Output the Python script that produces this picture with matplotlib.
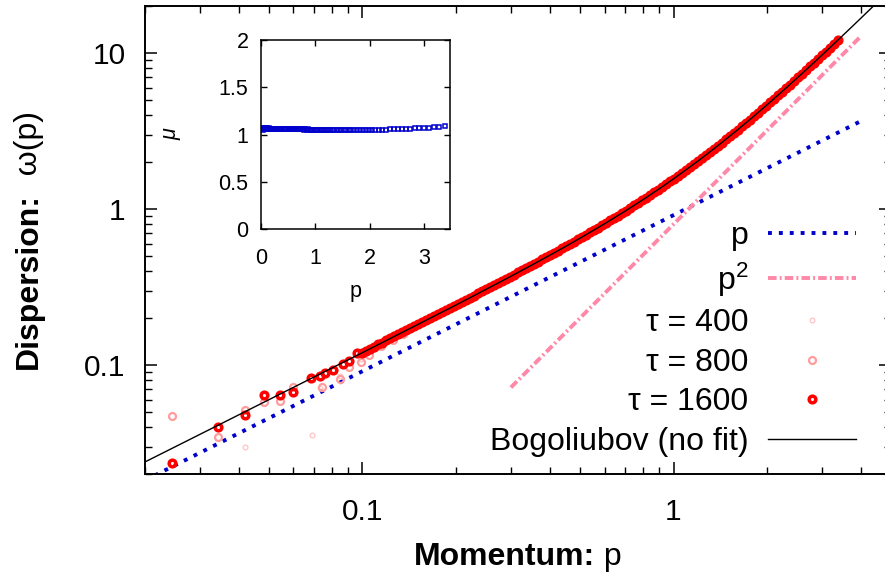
import matplotlib
matplotlib.use("Agg")
import matplotlib.pyplot as plt
from matplotlib.ticker import LogLocator, FuncFormatter, NullFormatter, FixedLocator
from matplotlib.transforms import IdentityTransform

plt.rcParams.update({
    "font.family": ["Liberation Sans", "DejaVu Sans"],
    "mathtext.fontset": "custom",
    "mathtext.rm": "Liberation Sans",
    "mathtext.it": "Liberation Sans:italic",
    "mathtext.bf": "Liberation Sans:bold",
})

# ---------------- data ----------------
# measured dispersion, tau = 1600: isolated low-momentum points
p_1600_low = [0.0244, 0.0343, 0.0419, 0.0481, 0.0542, 0.0597, 0.0684, 0.0731, 0.0760,
              0.0802, 0.0865, 0.0908, 0.0959]
w_1600_low = [0.0238, 0.0402, 0.0482, 0.0642, 0.0648, 0.0677, 0.0826, 0.0854, 0.0897,
              0.0933, 0.1020, 0.1066, 0.1194]

# tau = 1600: densely sampled momenta
p_1600 = [0.1000, 0.1030, 0.1061, 0.1093, 0.1126, 0.1159, 0.1194, 0.1230, 0.1267, 0.1305,
          0.1344, 0.1384, 0.1426, 0.1469, 0.1513, 0.1558, 0.1605, 0.1653, 0.1702, 0.1754,
          0.1806, 0.1860, 0.1916, 0.1974, 0.2033, 0.2094, 0.2157, 0.2221, 0.2288, 0.2357,
          0.2427, 0.2500, 0.2575, 0.2652, 0.2732, 0.2814, 0.2898, 0.2985, 0.3075, 0.3167,
          0.3262, 0.3360, 0.3461, 0.3564, 0.3671, 0.3781, 0.3895, 0.4012, 0.4132, 0.4256,
          0.4384, 0.4515, 0.4651, 0.4790, 0.4934, 0.5082, 0.5235, 0.5392, 0.5553, 0.5720,
          0.5892, 0.6068, 0.6250, 0.6438, 0.6631, 0.6830, 0.7035, 0.7246, 0.7463, 0.7687,
          0.7918, 0.8155, 0.8400, 0.8652, 0.8912, 0.9179, 0.9454, 0.9738, 1.0030, 1.0331,
          1.0641, 1.0960, 1.1289, 1.1628, 1.1976, 1.2336, 1.2706, 1.3087, 1.3480, 1.3884,
          1.4300, 1.4729, 1.5171, 1.5627, 1.6095, 1.6578, 1.7076, 1.7588, 1.8116, 1.8659,
          1.9219, 1.9796, 2.0389, 2.1001, 2.1631, 2.2280, 2.2948, 2.3637, 2.4346, 2.5076,
          2.5829, 2.6603, 2.7402, 2.8224, 2.9070, 2.9942, 3.0841, 3.1766, 3.2719, 3.3700]
w_1600 = [0.1204, 0.1241, 0.1278, 0.1317, 0.1357, 0.1397, 0.1440, 0.1484, 0.1529, 0.1575,
          0.1623, 0.1672, 0.1723, 0.1776, 0.1830, 0.1885, 0.1943, 0.2002, 0.2063, 0.2127,
          0.2192, 0.2259, 0.2328, 0.2401, 0.2474, 0.2551, 0.2630, 0.2710, 0.2795, 0.2882,
          0.2971, 0.3064, 0.3160, 0.3259, 0.3362, 0.3468, 0.3578, 0.3691, 0.3809, 0.3931,
          0.4056, 0.4187, 0.4323, 0.4461, 0.4607, 0.4757, 0.4914, 0.5076, 0.5244, 0.5419,
          0.5601, 0.5789, 0.5986, 0.6189, 0.6402, 0.6623, 0.6854, 0.7094, 0.7343, 0.7604,
          0.7877, 0.8160, 0.8456, 0.8767, 0.9091, 0.9431, 0.9786, 1.016, 1.055, 1.095,
          1.138, 1.183, 1.230, 1.280, 1.332, 1.387, 1.444, 1.505, 1.569, 1.636,
          1.707, 1.781, 1.860, 1.943, 2.030, 2.123, 2.221, 2.324, 2.433, 2.548,
          2.670, 2.798, 2.935, 3.079, 3.231, 3.393, 3.564, 3.745, 3.937, 4.139,
          4.355, 4.583, 4.824, 5.080, 5.351, 5.638, 5.943, 6.266, 6.608, 6.971,
          7.356, 7.764, 8.197, 8.656, 9.142, 9.658, 10.21, 10.79, 11.40, 12.06]

# tau = 800
p_800 = [0.0244, 0.0343, 0.0419, 0.0481, 0.0542, 0.0597, 0.0742, 0.0844, 0.0908, 0.0990,
         0.1053, 0.1150, 0.1250, 0.1350]
w_800 = [0.0476, 0.0348, 0.0517, 0.0585, 0.0593, 0.0730, 0.0723, 0.0813, 0.0980, 0.1054,
         0.1164, 0.1330, 0.1460, 0.1580]

# tau = 400
p_400 = [0.0419, 0.0687, 0.0731, 0.0844, 0.0990, 0.1150, 0.1400]
w_400 = [0.0298, 0.0357, 0.0712, 0.0850, 0.1100, 0.1340, 0.1650]

# Bogoliubov dispersion (no fit)
p_bog = [0.02, 0.03, 0.05, 0.07, 0.1, 0.15, 0.2, 0.25, 0.3, 0.35, 0.4, 0.45, 0.5, 0.6,
         0.7, 0.8, 0.9, 1.0, 1.2, 1.4, 1.6, 1.8, 2.0, 2.3, 2.6, 3.0, 3.4, 3.8, 4.2, 4.6]
w_bog = [0.02400, 0.03601, 0.06005, 0.08414, 0.1204, 0.1814, 0.2433, 0.3064, 0.3711,
         0.4375, 0.5060, 0.5767, 0.6500, 0.8050, 0.9725, 1.1538, 1.3500, 1.5621, 2.0365,
         2.5815, 3.2000, 3.8940, 4.6648, 5.9667, 7.4453, 9.6933, 12.259, 15.143, 18.346,
         21.868]

# guide lines ~ p and ~ p^2
p_lin = [0.02, 4.0]
w_lin = [0.0183, 3.66]
p_sq = [0.30, 4.0]
w_sq = [0.072, 12.8]

# inset: mu versus p
p_mu = [0.0245, 0.0343, 0.0419, 0.0481, 0.0542, 0.0597, 0.0684, 0.0760, 0.0865, 0.1000,
        0.1061, 0.1126, 0.1194, 0.1267, 0.1344, 0.1426, 0.1513, 0.1605, 0.1702, 0.1806,
        0.1916, 0.2033, 0.2157, 0.2288, 0.2427, 0.2575, 0.2732, 0.2898, 0.3075, 0.3262,
        0.3461, 0.3671, 0.3895, 0.4132, 0.4384, 0.4651, 0.4934,
        0.5082, 0.5235, 0.5392, 0.5553, 0.5720, 0.5892, 0.6068, 0.6250, 0.6438, 0.6631,
        0.6830, 0.7035, 0.7246, 0.7463, 0.7687, 0.7918, 0.8155, 0.8400, 0.8652, 0.8912,
        0.9179, 0.9454, 0.9738, 1.0030, 1.0331, 1.0641, 1.0960, 1.1289, 1.1628, 1.1976,
        1.2336, 1.2706, 1.3087, 1.3480, 1.3884, 1.4300, 1.4729, 1.5171, 1.5627, 1.6095,
        1.6578, 1.7076, 1.7588, 1.8116, 1.8659, 1.9219, 1.9796, 2.0389, 2.1001, 2.1631,
        2.2280, 2.2948, 2.3637, 2.4346, 2.5076, 2.5829, 2.6603, 2.7402, 2.8224, 2.9070,
        2.9942, 3.0841, 3.1766, 3.2719, 3.3700]
mu = [1.060, 1.070, 1.050, 1.068, 1.056, 1.066, 1.053, 1.066, 1.056, 1.064,
      1.054, 1.065, 1.057, 1.063, 1.055, 1.064, 1.056, 1.062, 1.055, 1.062,
      1.056, 1.062, 1.055, 1.061, 1.056, 1.061, 1.055, 1.060, 1.056, 1.060,
      1.055, 1.059, 1.056, 1.059, 1.056, 1.058, 1.056,
      1.058, 1.056, 1.058, 1.055, 1.057, 1.055, 1.057, 1.054, 1.056, 1.054,
      1.055, 1.053, 1.055, 1.053, 1.054, 1.052, 1.054, 1.052, 1.053, 1.051,
      1.052, 1.051, 1.051, 1.050, 1.050, 1.049, 1.050, 1.048, 1.049, 1.047,
      1.048, 1.047, 1.047, 1.046, 1.046, 1.045, 1.046, 1.045, 1.045, 1.044,
      1.045, 1.044, 1.045, 1.045, 1.046, 1.046, 1.047, 1.048, 1.049, 1.050,
      1.051, 1.052, 1.053, 1.055, 1.056, 1.058, 1.060, 1.062, 1.064, 1.067,
      1.070, 1.074, 1.078, 1.084, 1.090]

# ---------------- figure ----------------
W, H = 885, 580
fig = plt.figure(figsize=(W / 100, H / 100), dpi=100)


def px_box(left, top, right, bottom):
    return [left / W, 1 - bottom / H, (right - left) / W, (bottom - top) / H]


ax = fig.add_axes(px_box(145, 6, 891, 474.3))
ax.set_xscale("log")
ax.set_yscale("log")
ax.set_xlim(0.02, 5)
ax.set_ylim(0.02, 20)

BLUE = "#0000cc"
PINK = "#ff88a8"
RED = "#ff0000"

h_lin, = ax.plot(p_lin, w_lin, color=BLUE, lw=2.8, ls=(0, (1.0, 1.8)),
                 dash_capstyle="butt", zorder=2, label="p")
h_sq, = ax.plot(p_sq, w_sq, color=PINK, lw=2.8, ls=(0, (2.2, 0.8, 0.5, 0.8)),
                dash_capstyle="butt", zorder=2, label=r"$\mathrm{p}^{2}$")
h400, = ax.plot(p_400, w_400, ls="none", marker="o", mfc="none", mec="#ffc8c8",
                ms=3.4, mew=1.0, zorder=3, label="τ = 400")
h800, = ax.plot(p_800, w_800, ls="none", marker="o", mfc="none", mec="#ff9c9c",
                ms=5.0, mew=1.6, zorder=3, label="τ = 800")
h1600, = ax.plot(p_1600_low, w_1600_low, ls="none", marker="o", mfc="none", mec=RED,
                 ms=4.8, mew=2.5, zorder=4, label="τ = 1600")
# at high momentum the tau = 1600 rings overlap into a solid band
ax.plot(p_1600, w_1600, ls="none", marker="o", mfc=RED, mec=RED,
        ms=6.3, mew=1.0, zorder=4)
h_bog, = ax.plot(p_bog, w_bog, color="black", lw=1.0, zorder=5,
                 label="Bogoliubov (no fit)")

for s in ax.spines.values():
    s.set_linewidth(1.4)

ax.xaxis.set_major_locator(LogLocator(base=10))
ax.yaxis.set_major_locator(LogLocator(base=10))
ax.xaxis.set_minor_locator(LogLocator(base=10, subs=range(2, 10)))
ax.yaxis.set_minor_locator(LogLocator(base=10, subs=range(2, 10)))
fmt = FuncFormatter(lambda v, _: f"{v:g}")
ax.xaxis.set_major_formatter(fmt)
ax.yaxis.set_major_formatter(fmt)
ax.xaxis.set_minor_formatter(NullFormatter())
ax.yaxis.set_minor_formatter(NullFormatter())
ax.tick_params(which="both", direction="in", top=True, right=True)
ax.tick_params(which="major", length=8.6, width=1.1, labelsize=21.5)
ax.tick_params(which="minor", length=5.0, width=1.0)
ax.tick_params(axis="x", which="major", pad=17)
ax.tick_params(axis="y", which="major", pad=14)

leg = ax.legend(handles=[h_lin, h_sq, h400, h800, h1600, h_bog],
                loc="lower right", bbox_to_anchor=(856, H - 457),
                bbox_transform=IdentityTransform(), frameon=False,
                markerfirst=False, fontsize=23, handlelength=2.75,
                handletextpad=0.62, labelspacing=0.30, borderpad=0,
                borderaxespad=0, numpoints=1)

# ---------------- inset ----------------
axi = fig.add_axes(px_box(261, 40, 450, 229))
axi.plot(p_mu, mu, ls="none", marker="s", mfc="none", mec=BLUE, ms=3.2, mew=1.1)
axi.set_xlim(0, 3.47)
axi.set_ylim(0, 2)
axi.xaxis.set_major_locator(FixedLocator([0, 1, 2, 3]))
axi.yaxis.set_major_locator(FixedLocator([0, 0.5, 1, 1.5, 2]))
axi.xaxis.set_major_formatter(fmt)
axi.yaxis.set_major_formatter(fmt)
axi.tick_params(direction="in", top=True, right=True, length=4.5, width=1.0,
                labelsize=15.5)
axi.tick_params(axis="x", pad=14)
axi.tick_params(axis="y", pad=9)
for s in axi.spines.values():
    s.set_linewidth(1.1)
axi.set_xlabel("p", fontsize=15.5, labelpad=8)
axi.set_ylabel("μ", fontsize=15.5, style="italic", labelpad=27)

# ---------------- axis titles (bold + regular parts) ----------------
fig.canvas.draw()
renderer = fig.canvas.get_renderer()
LABEL_SIZE = 23

# x title, centred under the axes
tx1 = fig.text(0, 0, "Momentum:", fontsize=LABEL_SIZE, fontweight="bold",
               transform=IdentityTransform(), ha="left", va="baseline")
tx2 = fig.text(0, 0, " p", fontsize=LABEL_SIZE,
               transform=IdentityTransform(), ha="left", va="baseline")
w1 = tx1.get_window_extent(renderer).width
w2 = tx2.get_window_extent(renderer).width
x0 = 518 - (w1 + w2) / 2
base_y = H - 565
tx1.set_position((x0, base_y))
tx2.set_position((x0 + w1, base_y))

# y title, rotated, centred beside the axes
ty1 = fig.text(0, 0, "Dispersion:", fontsize=LABEL_SIZE, fontweight="bold",
               rotation=90, rotation_mode="anchor",
               transform=IdentityTransform(), ha="left", va="baseline")
ty2 = fig.text(0, 0, "  ω(p)", fontsize=LABEL_SIZE, rotation=90,
               rotation_mode="anchor",
               transform=IdentityTransform(), ha="left", va="baseline")
h1 = ty1.get_window_extent(renderer).height
h2 = ty2.get_window_extent(renderer).height
y0 = (H - 240) - (h1 + h2) / 2
base_x = 37
ty1.set_position((base_x, y0))
ty2.set_position((base_x, y0 + h1))

fig.savefig("out.png", dpi=100)
